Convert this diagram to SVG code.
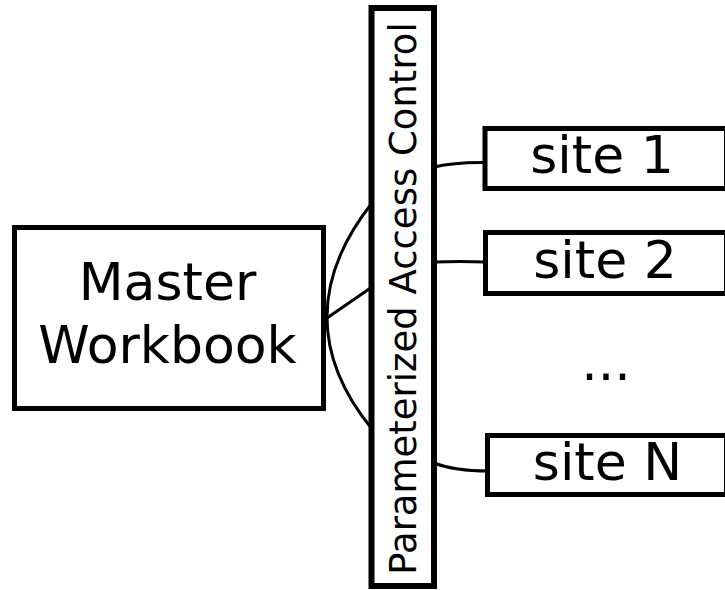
<svg xmlns="http://www.w3.org/2000/svg" width="725" height="590" viewBox="0 0 725 590">
  <style>
    .box { fill: #ffffff; stroke: #000000; stroke-width: 5; }
    .bar { fill: #ffffff; stroke: #000000; stroke-width: 6; }
    .link { fill: none; stroke: #000000; stroke-width: 3; }
    .lbl { font-family: "DejaVu Sans", "Liberation Sans", sans-serif; font-size: 52px; fill: #000000; text-anchor: middle; }
    .vlbl { font-family: "DejaVu Sans", "Liberation Sans", sans-serif; font-size: 37px; fill: #000000; text-anchor: middle; }
  </style>
  <rect width="725" height="590" fill="#ffffff"/>

  <g id="connectors">
    <!-- workbook to access-control bar -->
    <path class="link" d="M372,203 Q327,260 327,317 Q327,374 372,429"/>
    <path class="link" d="M327,318 L372,287"/>
    <!-- access-control bar to sites -->
    <path class="link" d="M434,167 Q455,162 486,162.5"/>
    <path class="link" d="M434,262 Q460,261 486,262"/>
    <path class="link" d="M434,463 Q455,471 488,471"/>
  </g>

  <g id="master">
    <rect class="box" x="14.5" y="227.5" width="309" height="181"/>
    <text class="lbl" x="167.5" y="300">Master</text>
    <text class="lbl" x="167.5" y="363">Workbook</text>
  </g>

  <g id="access-control">
    <rect class="bar" x="371.5" y="8" width="62.5" height="578"/>
    <text class="vlbl" transform="translate(415.5,298.5) rotate(-90)">Parameterized Access Control</text>
  </g>

  <g id="site1">
    <rect class="box" x="485" y="128.5" width="241.5" height="60"/>
    <text class="lbl" x="602" y="173.3">site 1</text>
  </g>

  <g id="site2">
    <rect class="box" x="485.5" y="232.5" width="241" height="61"/>
    <text class="lbl" x="605" y="278">site 2</text>
  </g>

  <g id="ellipsis">
    <text class="lbl" x="606" y="380">...</text>
  </g>

  <g id="siteN">
    <rect class="box" x="487.5" y="435.5" width="239" height="59"/>
    <text class="lbl" x="607.5" y="480">site N</text>
  </g>
</svg>
